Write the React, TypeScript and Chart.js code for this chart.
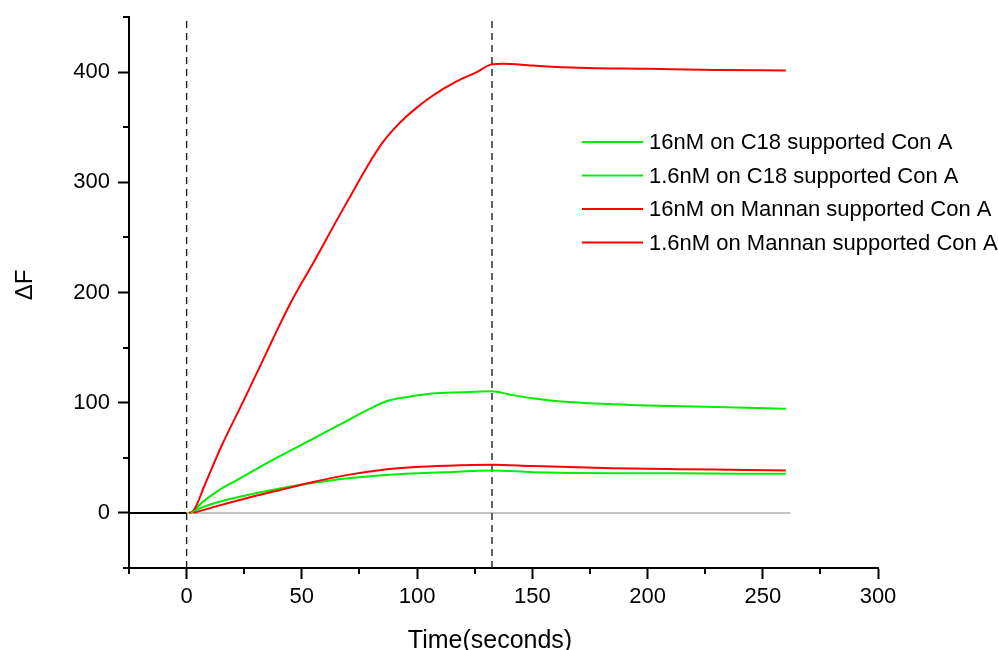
import React, { useEffect, useRef } from "react";
import { Chart, registerables } from "chart.js";

Chart.register(...registerables);

// Time axis (seconds) and ΔF values for each binding trace
const redHighTime = [1, 3, 8, 15, 25, 35, 40, 45, 50, 55, 65, 75, 80, 85, 90, 95, 100, 105, 110, 115, 120, 125, 132.5, 137, 150, 170, 200, 230, 260];
const redHighValues = [0, 2, 26, 60, 103, 147, 169, 190, 209, 227, 265, 302, 320, 336, 348.5, 359, 368, 376, 383, 389, 394.5, 399, 407, 407.6, 406, 404, 403, 402, 401.5];

const greenHighTime = [2, 4, 7, 14, 22, 30, 40, 50, 60, 70, 80, 87, 95, 105, 115, 125, 132.5, 140, 150, 160, 175, 200, 230, 260];
const greenHighValues = [0, 4, 10, 20.5, 30, 39.5, 51, 62, 73, 84, 95, 101.5, 105, 108, 109.2, 110, 110.3, 107.5, 104, 101.5, 99.5, 97.5, 96, 94.5];

const redLowTime = [3, 12, 26, 41, 55, 70, 87, 98, 113, 132.5, 150, 185, 214, 243, 260];
const redLowValues = [0, 5.5, 13.3, 21, 28, 34.5, 39.7, 41.5, 42.8, 43.6, 42.5, 40.6, 39.7, 39, 38.5];

const greenLowTime = [2, 5, 12, 26, 41, 55, 70, 87, 98, 113, 132.5, 150, 185, 214, 240, 260];
const greenLowValues = [0, 3.5, 8.8, 16, 22.4, 27.3, 31.5, 34.5, 35.8, 37, 38.5, 37, 36, 36, 35.5, 35.5];

// Baseline before injection and after it
const preBaselineTime = [-25, 0];
const postBaselineTime = [0, 262];
const baselineValue = 0;

// Injection start and wash start markers
const markerTimes = [0, 132.5];
const markerSpan = [-50, 450];

// Axis ticks
const xMajorTicks = [0, 50, 100, 150, 200, 250, 300];
const xMinorTicks = [-25, 25, 75, 125, 175, 225, 275];
const yMajorTicks = [0, 100, 200, 300, 400];
const yMinorTicks = [-50, 50, 150, 250, 350, 450];

const legendLabels = [
  "16nM on C18 supported Con A",
  "1.6nM on C18 supported Con A",
  "16nM on Mannan supported Con A",
  "1.6nM on Mannan supported Con A",
];

const RED = "#ff0000";
const GREEN = "#00ee00";
const legendColors = [GREEN, GREEN, RED, RED];
const FONT = '"Liberation Sans", Arial, sans-serif';

const toPoints = (xs: number[], ys: number[]) => xs.map((x, i) => ({ x, y: ys[i] }));

export default function App() {
  const canvasRef = useRef<HTMLCanvasElement | null>(null);

  useEffect(() => {
    if (!canvasRef.current) return;

    const decorations = {
      id: "decorations",
      afterDraw(chart: any) {
        const { ctx, chartArea, scales } = chart;
        const xs = scales.x;
        const ys = scales.y;
        ctx.save();
        // minor ticks
        ctx.strokeStyle = "#000";
        ctx.lineWidth = 2;
        ctx.beginPath();
        xMinorTicks.forEach((v) => {
          const px = Math.round(xs.getPixelForValue(v));
          ctx.moveTo(px, chartArea.bottom);
          ctx.lineTo(px, chartArea.bottom + 6);
        });
        yMinorTicks.forEach((v) => {
          const py = Math.round(ys.getPixelForValue(v));
          ctx.moveTo(chartArea.left - 6, py);
          ctx.lineTo(chartArea.left, py);
        });
        ctx.stroke();

        // axis titles
        ctx.fillStyle = "#000";
        ctx.font = `25px ${FONT}`;
        ctx.textAlign = "center";
        ctx.textBaseline = "alphabetic";
        ctx.fillText("Time(seconds)", 490, 648);

        ctx.save();
        ctx.translate(32, 285);
        ctx.rotate(-Math.PI / 2);
        ctx.font = `24px ${FONT}`;
        ctx.fillText("ΔF", 0, 0);
        ctx.restore();

        // legend
        ctx.font = `22px ${FONT}`;
        ctx.textAlign = "left";
        ctx.textBaseline = "middle";
        legendLabels.forEach((label, i) => {
          const y = 142 + i * 33.5;
          ctx.strokeStyle = legendColors[i];
          ctx.lineWidth = 2;
          ctx.beginPath();
          ctx.moveTo(582, y);
          ctx.lineTo(643, y);
          ctx.stroke();
          ctx.fillStyle = "#000";
          ctx.fillText(label, 649, y + 1);
        });
        ctx.restore();
      },
    };

    const line = (data: { x: number; y: number }[], color: string, extra: any = {}) => ({
      data,
      borderColor: color,
      borderWidth: 2,
      pointRadius: 0,
      fill: false,
      cubicInterpolationMode: "monotone",
      ...extra,
    });

    const chart = new Chart(canvasRef.current, {
      type: "line",
      data: {
        datasets: [
          line(toPoints(redLowTime, redLowValues), RED, { order: 1 }),
          line(toPoints(greenLowTime, greenLowValues), GREEN, { order: 2 }),
          line(toPoints(redHighTime, redHighValues), RED, { order: 3 }),
          line(toPoints(greenHighTime, greenHighValues), GREEN, { order: 4 }),
          ...markerTimes.map((t) =>
            line(
              markerSpan.map((y) => ({ x: t, y })),
              "#222222",
              { borderWidth: 1.4, borderDash: [7, 5], order: 5, cubicInterpolationMode: "default", tension: 0 }
            )
          ),
          line(
            postBaselineTime.map((x) => ({ x, y: baselineValue })),
            "#c4c4c4",
            { order: 6, tension: 0 }
          ),
          line(
            preBaselineTime.map((x) => ({ x, y: baselineValue })),
            "#000000",
            { order: 6, tension: 0 }
          ),
        ] as any,
      },
      options: {
        animation: false,
        responsive: false,
        maintainAspectRatio: false,
        layout: { padding: { top: 17, right: 120, left: 0, bottom: 0 } },
        plugins: { legend: { display: false }, tooltip: { enabled: false } },
        scales: {
          x: {
            type: "linear",
            min: -25,
            max: 300,
            afterFit: (s: any) => {
              s.height = 82;
            },
            afterBuildTicks: (s: any) => {
              s.ticks = xMajorTicks.map((value) => ({ value }));
            },
            grid: { drawOnChartArea: false, drawTicks: true, tickLength: 11, tickWidth: 2, tickColor: "#000" },
            border: { display: true, color: "#000", width: 2 },
            ticks: { color: "#000", font: { family: FONT, size: 22 }, padding: 5, maxRotation: 0, autoSkip: false },
          },
          y: {
            type: "linear",
            min: -50,
            max: 450,
            afterFit: (s: any) => {
              s.width = 129;
              s.paddingTop = 0;
              s.paddingBottom = 0;
            },
            afterBuildTicks: (s: any) => {
              s.ticks = yMajorTicks.map((value) => ({ value }));
            },
            grid: { drawOnChartArea: false, drawTicks: true, tickLength: 11, tickWidth: 2, tickColor: "#000" },
            border: { display: true, color: "#000", width: 2 },
            ticks: { color: "#000", font: { family: FONT, size: 22 }, padding: 8, autoSkip: false },
          },
        },
      },
      plugins: [decorations],
    });

    return () => chart.destroy();
  }, []);

  return (
    <div style={{ position: "absolute", left: 0, top: 0, width: 998, height: 650, background: "#fff" }}>
      <canvas ref={canvasRef} width={998} height={650} style={{ display: "block" }} />
    </div>
  );
}
